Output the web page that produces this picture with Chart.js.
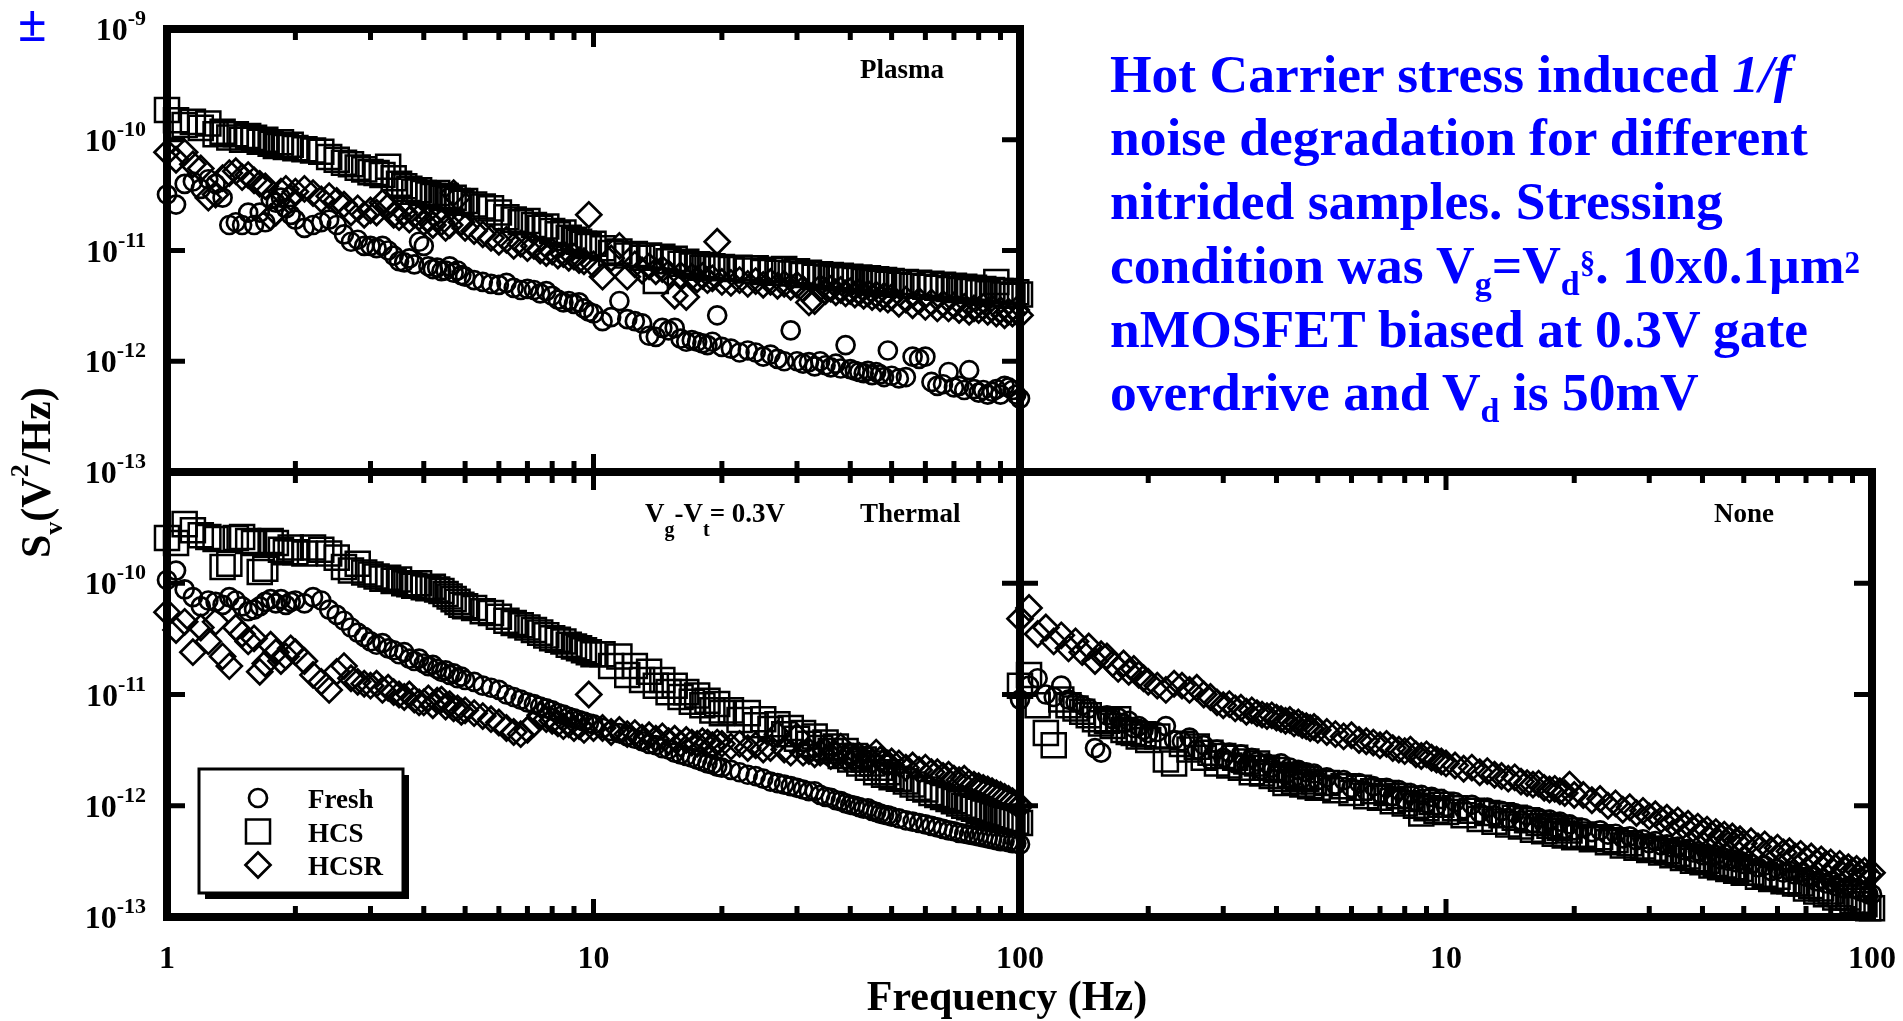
<!DOCTYPE html>
<html>
<head>
<meta charset="utf-8">
<script src="https://cdn.jsdelivr.net/npm/chart.js@4.4.1/dist/chart.umd.min.js"></script>
<style>
html, body { margin: 0; padding: 0; background: #fff; }
#wrap { position: relative; width: 1903px; height: 1021px; overflow: hidden; }
canvas { position: absolute; left: 0; top: 0; }
.note { position: absolute; left: 1110px; font: bold 53.5px/64px "Liberation Serif", "Times New Roman", serif; color: #00f; white-space: nowrap; }
.note .sb { font-size: 34px; position: relative; top: 12px; line-height: 0; }
.note .sp { font-size: 31px; position: relative; top: -10px; line-height: 0; }
.pm { position: absolute; left: 18px; top: -2px; font: bold 52px/52px "Liberation Serif", serif; color: #00f; }
.ytitle { position: absolute; left: 15px; top: 558px; transform-origin: 0 0; transform: rotate(-90deg);
          font: bold 42px/42px "Liberation Serif", "Times New Roman", serif; white-space: nowrap; }
.ytitle .sb { font-size: 26px; position: relative; top: 12px; line-height: 0; }
.ytitle .sp { font-size: 26px; position: relative; top: -22px; line-height: 0; }
.xtitle { position: absolute; left: 507px; width: 1000px; top: 975px; text-align: center;
          font: bold 42px/42px "Liberation Serif", "Times New Roman", serif; }
</style>
</head>
<body>
<div id="wrap">
  <canvas id="plasma" width="1903" height="1021"></canvas>
  <canvas id="thermal" width="1903" height="1021"></canvas>
  <canvas id="none" width="1903" height="1021"></canvas>

  <div class="pm">±</div>
  <div class="ytitle">S<span class="sb">v</span>(V<span class="sp">2</span>/Hz)</div>
  <div class="xtitle">Frequency (Hz)</div>

  <div class="note" style="top:42px">Hot Carrier stress induced <i>1/f</i></div>
  <div class="note" style="top:105px">noise degradation for different</div>
  <div class="note" style="top:169px">nitrided samples. Stressing</div>
  <div class="note" style="top:233px">condition was V<span class="sb">g</span>=V<span class="sb">d</span><span class="sp">§</span>. 10x0.1µm<span class="sp">2</span></div>
  <div class="note" style="top:297px">nMOSFET biased at 0.3V gate</div>
  <div class="note" style="top:360px">overdrive and V<span class="sb">d</span> is 50mV</div>
</div>

<script>
// spectra below are in units of 1e-12 V^2/Hz
const UNIT = 1e-12;

// frequency points (Hz), one row per sweep segment
const FREQ = [
  1.00, 1.05, 1.10, 1.15, 1.20, 1.25, 1.30, 1.35, 1.40, 1.45, 1.50, 1.55, 1.60, 1.65, 1.70, 1.75, 1.80, 1.85, 1.90, 1.95, 2.00,
  2.1, 2.2, 2.3, 2.4, 2.5, 2.6, 2.7, 2.8, 2.9, 3.0, 3.1, 3.2, 3.3, 3.4, 3.5, 3.6, 3.7, 3.8, 3.9, 4.0, 4.1, 4.2, 4.3, 4.4, 4.5, 4.6, 4.7, 4.8, 4.9, 5.0,
  5.25, 5.5, 5.75, 6, 6.25, 6.5, 6.75, 7, 7.25, 7.5, 7.75, 8, 8.25, 8.5, 8.75, 9, 9.25, 9.5, 9.75, 10,
  10.5, 11, 11.5, 12, 12.5, 13, 13.5, 14, 14.5, 15, 15.5, 16, 16.5, 17, 17.5, 18, 18.5, 19, 19.5, 20,
  21, 22, 23, 24, 25, 26, 27, 28, 29, 30, 31, 32, 33, 34, 35, 36, 37, 38, 39, 40, 41, 42, 43, 44, 45, 46, 47, 48, 49, 50,
  52, 54, 56, 58, 60, 62, 64, 66, 68, 70, 72, 74, 76, 78, 80, 82, 84, 86, 88, 90, 92, 94, 96, 98, 100
];

// ---- Plasma ----
const PLASMA_FRESH = [
  32, 26, 40, 42, 36, 44, 40, 30, 17, 18, 17, 22, 17, 22, 18, 29, 27, 30, 24, 21, 19,
  16, 17, 18, 19, 17, 14, 12, 12.5, 11, 11, 10.5, 11, 10, 9, 8, 7.8, 8.5, 7.5, 12, 11, 7.2, 6.8, 7.0, 6.5, 6.6, 7.2, 6.3, 6.6, 6.0, 5.8,
  5.4, 5.2, 5.0, 4.9, 5.1, 4.6, 4.4, 4.5, 4.4, 4.1, 4.3, 3.9, 3.6, 3.4, 3.5, 3.3, 3.4, 3.0, 2.8, 2.7,
  2.3, 2.5, 3.5, 2.4, 2.3, 2.2, 1.7, 1.66, 2.0, 1.9, 2.0, 1.6, 1.5, 1.55, 1.5, 1.45, 1.4, 1.5, 2.6, 1.35,
  1.3, 1.2, 1.25, 1.2, 1.1, 1.15, 1.05, 1.0, 1.9, 1.0, 0.95, 0.98, 0.9, 1.0, 0.92, 0.88, 0.95, 0.86, 1.4, 0.85, 0.82, 0.8, 0.78, 0.82, 0.75, 0.8, 0.76, 0.72, 1.25, 0.74,
  0.7, 0.72, 1.1, 1.05, 1.1, 0.65, 0.6, 0.62, 0.8, 0.58, 0.6, 0.55, 0.83, 0.56, 0.52, 0.55, 0.5, 0.53, 0.56, 0.5, 0.6, 0.58, 0.55, 0.5, 0.46
];
const PLASMA_HCS = [
  186, 150, 136, 145, 128, 140, 112, 118, 105, 112, 100, 108, 104, 96, 100, 92, 88, 95, 86, 90, 84,
  82, 80, 78, 70, 66, 62, 60, 56, 54, 51, 50, 48, 57, 45, 40, 38, 36, 34, 35, 33, 32, 31, 33, 30, 31, 29, 30, 28, 27, 28,
  26, 25, 24, 22, 20, 19, 18, 18.5, 17, 16, 16.5, 15, 14, 14.5, 13, 12.5, 12, 11.5, 11, 11.5,
  10.5, 9.5, 9.8, 9.0, 9.3, 8.6, 9.0, 5.3, 8.8, 8.0, 8.4, 7.6, 7.9, 7.3, 7.5, 7.0, 7.4, 7.2, 6.9, 7.1,
  6.8, 7.0, 6.6, 6.9, 6.4, 6.7, 6.3, 6.8, 6.2, 6.5, 6.0, 6.3, 5.8, 6.1, 5.7, 6.0, 5.6, 5.9, 5.5, 5.8, 5.4, 5.7, 5.3, 5.6, 5.2, 5.5, 5.1, 5.4, 5.0, 5.3,
  4.9, 5.2, 4.8, 5.1, 4.7, 5.0, 4.6, 4.9, 4.5, 4.8, 4.4, 4.7, 4.3, 4.6, 4.2, 4.5, 4.1, 4.4, 5.2, 4.3, 4.0, 4.3, 3.9, 4.2, 4.0
];
const PLASMA_HCSR = [
  77, 66, 77, 60, 55, 30, 32, 45, 50, 52, 46, 48, 43, 40, 38, 20, 22, 34, 36, 30, 34,
  36, 33, 29, 31, 28, 26, 22, 24, 21, 23, 22, 27, 25, 21, 20, 22, 19, 21, 20, 18, 19, 17, 20, 18, 16, 17, 33, 30, 18, 16,
  15, 14, 13, 12, 12.5, 11, 11.5, 10.5, 11, 10, 9.5, 9.8, 9.0, 9.3, 8.6, 8.8, 8.2, 8.0, 21, 7.5,
  5.8, 8.5, 11, 5.8, 7.5, 6.6, 7.2, 6.5, 6.8, 6.2, 3.9, 6.0, 3.8, 5.8, 5.5, 5.9, 5.4, 5.6, 12, 5.2,
  5.1, 5.4, 5.0, 5.3, 4.9, 5.2, 4.8, 5.0, 4.7, 4.9, 4.5, 3.4, 3.5, 4.6, 4.3, 4.5, 4.2, 4.4, 4.1, 4.3, 4.0, 4.2, 3.9, 4.1, 3.8, 4.0, 3.7, 3.9, 3.6, 3.8,
  3.3, 3.6, 3.2, 3.5, 3.1, 3.4, 3.0, 3.3, 3.0, 3.2, 2.9, 3.1, 2.8, 3.0, 2.9, 3.1, 2.8, 3.0, 2.7, 2.9, 2.6, 2.8, 2.7, 2.9, 2.6
];

// ---- Thermal ----
const THERMAL_FRESH = [
  107, 130, 88, 75, 62, 70, 68, 64, 75, 70, 62, 56, 58, 62, 68, 72, 66, 72, 64, 68, 70,
  66, 75, 70, 58, 52, 46, 40, 36, 33, 30, 28, 29, 26, 25, 23, 24, 21, 20, 21, 19, 18, 18.5, 17, 16, 16.5, 15, 15.5, 14, 14.5, 13.5,
  13, 12, 11.5, 11, 10, 9.5, 9.0, 8.5, 8.2, 7.8, 7.5, 7.2, 6.8, 6.6, 6.3, 6.1, 5.9, 5.7, 5.5, 5.4,
  5.0, 4.7, 4.5, 4.2, 4.0, 3.8, 3.6, 3.5, 3.3, 3.2, 3.0, 2.9, 2.8, 2.7, 2.6, 2.5, 2.4, 2.35, 2.25, 2.2,
  2.1, 2.0, 1.9, 1.85, 1.75, 1.65, 1.6, 1.55, 1.5, 1.45, 1.4, 1.35, 1.35, 1.25, 1.2, 1.18, 1.12, 1.1, 1.05, 1.02, 1.0, 0.97, 0.94, 0.95, 0.9, 0.88, 0.85, 0.83, 0.82, 0.8,
  0.77, 0.74, 0.72, 0.7, 0.68, 0.66, 0.64, 0.62, 0.6, 0.59, 0.57, 0.56, 0.55, 0.54, 0.53, 0.52, 0.51, 0.5, 0.49, 0.48, 0.48, 0.47, 0.46, 0.46, 0.45
];
const THERMAL_HCS = [
  255, 230, 340, 300, 270, 260, 250, 140, 150, 255, 260, 240, 230, 126, 135, 240, 230, 200, 190, 210, 190,
  185, 210, 200, 185, 170, 140, 130, 150, 125, 120, 115, 110, 112, 105, 108, 100, 98, 95, 100, 92, 90, 93, 88, 85, 80, 76, 72, 68, 64, 62,
  60, 56, 54, 50, 46, 44, 42, 40, 38, 36, 34, 32, 31, 30, 28, 27, 26, 25, 24, 23,
  23, 18, 22, 15, 18, 13.5, 16, 12, 13.5, 10.5, 12, 9.5, 10.5, 8.6, 9.8, 8.0, 8.8, 7.2, 8.2, 6.8,
  7.2, 5.9, 6.8, 5.3, 6.0, 4.9, 5.4, 4.4, 5.0, 4.0, 4.5, 3.6, 4.2, 3.3, 3.7, 3.1, 3.4, 2.8, 3.1, 2.6, 2.8, 2.4, 2.6, 2.2, 2.4, 2.0, 2.2, 1.9, 2.0, 1.8,
  1.75, 1.65, 1.55, 1.45, 1.4, 1.3, 1.25, 1.2, 1.15, 1.1, 1.05, 1.0, 0.97, 0.94, 0.9, 0.87, 0.85, 0.82, 0.8, 0.78, 0.76, 0.75, 0.73, 0.72, 0.7
];
const THERMAL_HCSR = [
  55, 38, 45, 24, 40, 30, 45, 22, 18, 40, 35, 30, 32, 16, 19, 28, 24, 20, 22, 26, 24,
  20, 15, 13, 11, 16, 18, 14, 13, 12.5, 12, 12.5, 11, 11.5, 10.5, 10, 9.5, 10, 9.0, 8.5, 8.5, 9.2, 8.0, 8.8, 9.0, 7.8, 8.2, 7.5, 7.5, 7.0, 7.2,
  6.8, 6.4, 6.0, 5.6, 5.0, 4.6, 4.4, 4.8, 5.5, 6.5, 6.0, 5.8, 5.5, 5.2, 5.4, 5.0, 5.2, 4.8, 10, 5.0,
  5.0, 4.6, 4.8, 4.4, 4.5, 4.1, 4.3, 4.0, 4.2, 3.8, 4.0, 3.6, 3.9, 3.7, 3.6, 3.8, 3.7, 3.5, 3.7, 3.6,
  3.4, 3.6, 3.3, 3.5, 3.2, 3.3, 4.4, 3.2, 3.0, 4.2, 3.0, 3.1, 2.9, 3.0, 3.1, 2.8, 2.9, 3.4, 2.7, 2.8, 2.7, 2.8, 2.6, 2.7, 2.5, 3.0, 2.6, 2.5, 2.4, 2.5,
  2.4, 2.2, 2.3, 2.1, 2.2, 2.0, 2.0, 1.85, 1.9, 1.75, 1.7, 1.75, 1.6, 1.55, 1.5, 1.45, 1.4, 1.35, 1.3, 1.25, 1.2, 1.15, 1.1, 1.05, 1.0
];

// ---- None ----
const NONE_FRESH = [
  9, 12, 14, 10, 9.5, 12, 9, 8.5, 8, 7.5, 3.3, 3.0, 6.5, 6.0, 6.2, 5.5, 5.8, 5.0, 5.2, 4.8, 4.5,
  4.6, 5.2, 3.9, 3.8, 4.1, 3.2, 3.5, 2.6, 3.2, 2.7, 3.0, 2.4, 2.9, 2.3, 2.7, 2.5, 2.1, 2.4, 2.2, 2.0, 2.4, 1.9, 2.2, 1.8, 2.1, 1.75, 2.0, 1.7, 1.95, 1.7,
  1.8, 1.55, 1.7, 1.45, 1.6, 1.35, 1.5, 1.3, 1.45, 1.22, 1.38, 1.15, 1.3, 1.1, 1.25, 1.05, 1.2, 1.0, 1.15, 0.98,
  1.08, 0.93, 1.02, 0.86, 0.96, 0.82, 0.9, 0.77, 0.86, 0.74, 0.82, 0.7, 0.78, 0.68, 0.75, 0.64, 0.72, 0.62, 0.68, 0.6,
  0.63, 0.58, 0.6, 0.55, 0.56, 0.51, 0.53, 0.49, 0.5, 0.46, 0.48, 0.44, 0.45, 0.42, 0.43, 0.4, 0.41, 0.38, 0.39, 0.36, 0.37, 0.35, 0.36, 0.33, 0.34, 0.32, 0.33, 0.31, 0.32, 0.3,
  0.3, 0.28, 0.29, 0.26, 0.27, 0.25, 0.26, 0.24, 0.25, 0.23, 0.23, 0.21, 0.22, 0.2, 0.21, 0.19, 0.2, 0.18, 0.19, 0.18, 0.18, 0.17, 0.17, 0.16, 0.16
];
const NONE_HCS = [
  12, 15, 8, 4.5, 3.5, 9, 8, 7.5, 7, 6.5, 6, 5.5, 5.8, 5.2, 6, 4.8, 4.6, 4.5, 4.2, 4.4, 3.9,
  4.2, 2.6, 2.4, 3.6, 3.2, 3.4, 2.7, 3.0, 2.4, 2.8, 2.3, 2.7, 2.2, 2.5, 2.0, 2.4, 1.95, 2.2, 1.85, 2.1, 1.75, 1.6, 1.9, 1.65, 1.8, 1.55, 1.75, 1.5, 1.65, 1.45,
  1.6, 1.38, 1.5, 1.3, 1.45, 1.22, 1.35, 1.18, 1.3, 1.1, 1.22, 1.05, 1.15, 1.0, 0.85, 0.95, 1.08, 0.9, 1.02, 0.88,
  0.95, 0.82, 0.9, 0.76, 0.86, 0.72, 0.82, 0.68, 0.78, 0.65, 0.74, 0.61, 0.7, 0.59, 0.66, 0.56, 0.63, 0.54, 0.6, 0.52,
  0.55, 0.5, 0.52, 0.47, 0.49, 0.44, 0.46, 0.42, 0.43, 0.4, 0.41, 0.38, 0.39, 0.36, 0.37, 0.34, 0.35, 0.32, 0.33, 0.31, 0.32, 0.29, 0.3, 0.28, 0.29, 0.27, 0.28, 0.26, 0.27, 0.25,
  0.25, 0.23, 0.24, 0.22, 0.23, 0.21, 0.21, 0.2, 0.2, 0.18, 0.19, 0.17, 0.18, 0.16, 0.17, 0.15, 0.16, 0.15, 0.15, 0.14, 0.14, 0.13, 0.13, 0.12, 0.12
];
const NONE_HCSR = [
  48, 60, 35, 40, 30, 34, 26, 30, 24, 27, 20, 23, 22, 19, 17, 19, 16, 17, 15, 14, 13,
  12, 11, 12.5, 12, 11, 11.5, 10, 9.5, 8.5, 8.0, 8.2, 7.5, 7.6, 7.0, 7.2, 6.8, 6.6, 6.4, 6.5, 6.2, 6.0, 5.8, 5.9, 5.5, 5.6, 5.3, 5.2, 5.0, 5.1, 4.8,
  4.6, 4.4, 4.2, 4.3, 3.9, 3.8, 3.7, 3.5, 3.6, 3.3, 3.2, 3.1, 3.2, 2.9, 2.8, 2.9, 2.7, 2.6, 2.5, 2.4,
  2.3, 2.15, 2.2, 2.0, 2.05, 1.9, 1.85, 1.75, 1.8, 1.65, 1.6, 1.55, 1.58, 1.45, 1.4, 1.42, 1.35, 1.3, 1.55, 1.25,
  1.25, 1.12, 1.15, 1.0, 1.05, 0.92, 0.97, 0.86, 0.9, 0.8, 0.84, 0.75, 0.78, 0.7, 0.74, 0.66, 0.69, 0.62, 0.65, 0.58, 0.61, 0.55, 0.58, 0.53, 0.55, 0.5, 0.53, 0.48, 0.5, 0.46,
  0.48, 0.43, 0.45, 0.4, 0.42, 0.38, 0.39, 0.35, 0.37, 0.33, 0.35, 0.31, 0.33, 0.3, 0.31, 0.28, 0.3, 0.27, 0.28, 0.26, 0.27, 0.25, 0.26, 0.24, 0.25
];

const SERIES = ['Fresh', 'HCS', 'HCSR'];
const X_TICKS = [1, 2, 3, 4, 5, 6, 7, 8, 9, 10, 20, 30, 40, 50, 60, 70, 80, 90, 100];
const X_LABELS = [1, 10, 100];
const Y_DECADES = [1e-13, 1e-12, 1e-11, 1e-10, 1e-9];

const SERIF = '"Liberation Serif", "Times New Roman", serif';
const MARKERS = [
  { pointStyle: 'circle', pointRadius: 9, pointBorderWidth: 2.7 },
  { pointStyle: 'rect', pointRadius: 17, pointBorderWidth: 2.5 },
  { pointStyle: 'rectRot', pointRadius: 12.5, pointBorderWidth: 2.7 }
];

function drawRuns(ctx, runs, x, y, size) {
  runs.forEach(r => {
    const s = r.sub ? Math.round(size * 0.74) : size;
    ctx.font = `bold ${s}px ${SERIF}`;
    ctx.fillText(r.t, x, r.sub ? y + 14 : y);
    x += ctx.measureText(r.t).width;
  });
}

const framePlugin = {
  id: 'frame',
  afterDatasetsDraw(chart, args, opts) {
    const { ctx, chartArea: a } = chart;
    const x = chart.scales.x, y = chart.scales.y;
    ctx.save();
    ctx.strokeStyle = '#000';
    ctx.fillStyle = '#000';
    ctx.lineWidth = 8;
    ctx.strokeRect(a.left, a.top, a.right - a.left, a.bottom - a.top);

    // inward ticks on all four sides
    ctx.lineWidth = 5;
    ctx.beginPath();
    X_TICKS.forEach(v => {
      if (v === 1 || v === 100) return;
      const px = x.getPixelForValue(v);
      const len = X_LABELS.includes(v) ? 18 : 11;
      ctx.moveTo(px, a.top); ctx.lineTo(px, a.top + len);
      ctx.moveTo(px, a.bottom); ctx.lineTo(px, a.bottom - len);
    });
    Y_DECADES.slice(1, -1).forEach(v => {
      const py = y.getPixelForValue(v);
      ctx.moveTo(a.left, py); ctx.lineTo(a.left + 18, py);
      ctx.moveTo(a.right, py); ctx.lineTo(a.right - 18, py);
    });
    ctx.stroke();

    // y tick labels 10^n
    ctx.textBaseline = 'alphabetic';
    (opts.yLabels || []).forEach(v => {
      const py = y.getPixelForValue(v);
      const exp = String(Math.round(Math.log10(v)));
      ctx.font = `bold 32px ${SERIF}`;
      const w1 = ctx.measureText('10').width;
      ctx.font = `bold 22px ${SERIF}`;
      const w2 = ctx.measureText(exp).width;
      const x0 = a.left - 21 - w1 - w2;
      ctx.font = `bold 32px ${SERIF}`;
      ctx.fillText('10', x0, py + 11);
      ctx.font = `bold 22px ${SERIF}`;
      ctx.fillText(exp, x0 + w1, py - 4);
    });

    // x tick labels
    ctx.textAlign = 'center';
    ctx.font = `bold 32px ${SERIF}`;
    (opts.xLabels || []).forEach(v => {
      ctx.fillText(String(v), x.getPixelForValue(v), a.bottom + 51);
    });
    ctx.textAlign = 'left';

    (opts.tags || []).forEach(t => drawRuns(ctx, t.runs, t.x, t.y, 27));

    const L = opts.legend;
    if (L) {
      ctx.fillStyle = '#000';
      ctx.fillRect(L.x + 6, L.y + 6, L.w, L.h);
      ctx.fillStyle = '#fff';
      ctx.fillRect(L.x, L.y, L.w, L.h);
      ctx.lineWidth = 3;
      ctx.strokeRect(L.x, L.y, L.w, L.h);
      chart.data.datasets.forEach((ds, i) => {
        const cy = L.rowY + i * L.rowGap;
        ctx.lineWidth = ds.pointBorderWidth;
        ctx.strokeStyle = '#000';
        ctx.fillStyle = 'rgba(0,0,0,0)';
        Chart.helpers.drawPoint(ctx, {
          pointStyle: ds.pointStyle, radius: ds.pointRadius,
          borderWidth: ds.pointBorderWidth, rotation: 0
        }, L.markerX, cy);
        ctx.fillStyle = '#000';
        ctx.font = `bold 27px ${SERIF}`;
        ctx.fillText(ds.label, L.textX, cy + 10);
      });
    }
    ctx.restore();
  }
};

function makePanel(id, padding, series, frame) {
  const datasets = series.map((vals, i) => Object.assign({
    label: SERIES[i],
    data: FREQ.map((f, k) => ({ x: f, y: vals[k] * UNIT })),
    showLine: false,
    clip: false,
    pointBorderColor: '#000',
    pointBackgroundColor: 'rgba(0,0,0,0)'
  }, MARKERS[i]));

  return new Chart(document.getElementById(id), {
    type: 'scatter',
    data: { datasets },
    options: {
      responsive: false,
      animation: false,
      devicePixelRatio: 1,
      events: [],
      layout: { padding },
      plugins: { legend: { display: false }, tooltip: { enabled: false }, frame },
      scales: {
        x: { type: 'logarithmic', min: 1, max: 100, display: false },
        y: { type: 'logarithmic', min: 1e-13, max: 1e-9, display: false }
      }
    },
    plugins: [framePlugin]
  });
}

makePanel('plasma', { left: 167, top: 29, right: 883, bottom: 549 },
  [PLASMA_FRESH, PLASMA_HCS, PLASMA_HCSR], {
    yLabels: Y_DECADES,
    tags: [{ runs: [{ t: 'Plasma' }], x: 860, y: 78 }]
  });

makePanel('thermal', { left: 167, top: 472, right: 883, bottom: 104 },
  [THERMAL_FRESH, THERMAL_HCS, THERMAL_HCSR], {
    yLabels: Y_DECADES.slice(0, 4),
    xLabels: X_LABELS,
    tags: [
      { runs: [{ t: 'Thermal' }], x: 860, y: 522 },
      { runs: [{ t: 'V' }, { t: 'g', sub: true }, { t: '-V' }, { t: 't', sub: true }, { t: '= 0.3V' }], x: 645, y: 522 }
    ],
    legend: { x: 199, y: 769, w: 204, h: 124, rowY: 798, rowGap: 33.5, markerX: 258, textX: 308 }
  });

makePanel('none', { left: 1020, top: 472, right: 31, bottom: 104 },
  [NONE_FRESH, NONE_HCS, NONE_HCSR], {
    xLabels: X_LABELS.slice(1),
    tags: [{ runs: [{ t: 'None' }], x: 1714, y: 522 }]
  });
</script>
</body>
</html>
